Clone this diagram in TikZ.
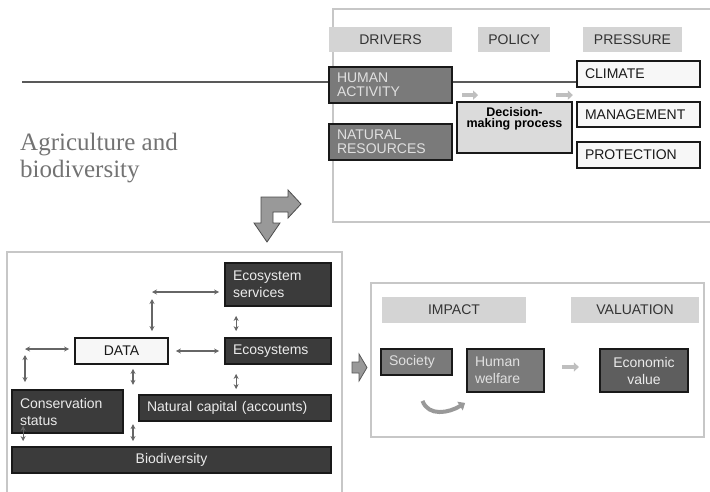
\documentclass[tikz,border=0pt]{standalone}
\usepackage{fontspec}
\setsansfont{Liberation Sans}
\newfontfamily\titlefont{Liberation Serif}
\usepackage{tikz}
\usetikzlibrary{arrows.meta,positioning,calc}

\begin{document}
\begin{tikzpicture}[x=1pt,y=-1pt,
  frame/.style={draw=black!22,line width=2.5pt},
  header/.style={fill=black!17,text=black!80,minimum height=25pt,inner xsep=8pt,inner ysep=2pt,align=center,font=\sffamily\fontsize{14}{14}\selectfont},
  box/.style={draw=black!90,line width=1.8pt,inner xsep=8pt,inner ysep=2pt,font=\sffamily\fontsize{14}{17}\selectfont},
  tight/.style={font=\sffamily\fontsize{14}{14}\selectfont},
  darkbox/.style={box,fill=black!77,text=black!8,align=left},
  midbox/.style={box,fill=black!52,text=black!12,align=left},
  lightbox/.style={box,fill=black!3,text=black!90,align=left},
  link/.style={draw=black!60,line width=1.1pt,{Stealth[length=5pt,width=5pt]}-{Stealth[length=5pt,width=5pt]}},
  softarrow/.style={draw=black!25,line width=3.5pt,-{Triangle[length=5pt,width=9pt]}},
  rule/.style={draw=black!65,line width=1.5pt}]
  \useasboundingbox (0,0) rectangle (710,491); % 画像全体の範囲
  \draw[frame] (333,9) rectangle (714,222); % 右上の枠
  \draw[frame] (7,252) rectangle (342,495); % 左下の枠
  \draw[frame] (371,283) rectangle (704,437); % 右下の枠
  % 右上：要因・政策・圧力
  \node[header,text width=107pt] (drivers) at (390.5,39.5) {DRIVERS}; % 見出し
  \node[header,text width=56pt] (policy) at (514,39.5) {POLICY}; % 見出し
  \node[header,text width=83pt] (pressure) at (632.5,39.5) {PRESSURE}; % 見出し
  \node[midbox,tight,text width=107pt,minimum height=36pt] (human) at (390.5,85) {HUMAN\\ACTIVITY}; % 人間活動
  \node[midbox,tight,text width=107pt,minimum height=36pt] (natural) at (390.5,142) {NATURAL\\RESOURCES}; % 自然資源
  \node[box,fill=black!14,align=center,inner xsep=4pt,inner ysep=5pt,text width=107pt,minimum height=51pt,text depth=31.5pt,font=\sffamily\bfseries\fontsize{12.5}{11}\selectfont] (decision) at (514.5,127.5) {Decision-\\making process}; % 意思決定
  \node[lightbox,tight,text width=107pt,minimum height=26pt] (climate) at (638.5,74) {CLIMATE}; % 気候
  \node[lightbox,tight,text width=107pt,minimum height=25pt] (management) at (638.5,114.5) {MANAGEMENT}; % 管理
  \node[lightbox,tight,text width=107pt,minimum height=26pt] (protection) at (638.5,155) {PROTECTION}; % 保護
  \coordinate (lineL) at (22,82); % 横線の左端
  \draw[rule] (lineL) -- (lineL -| human.west); % 横線（左）
  \draw[rule] (lineL -| human.east) -- (lineL -| climate.west); % 横線（右）
  \draw[softarrow] ([shift={(6,-6)}]decision.north west) -- ++(16,0); % 小さい矢印
  \draw[softarrow] ([shift={(-17,-6)}]decision.north east) -- ++(17,0); % 小さい矢印
  % 左側の題名と折れ矢印
  \node[anchor=north west,inner sep=0pt,align=left,text=black!55,font=\titlefont\fontsize{25}{27}\selectfont] (title) at (20,133) {Agriculture and\\biodiversity}; % 題名
  \draw[fill=black!40,draw=black!70,line width=0.8pt] (261,223) -- (254,223) -- (267,242) -- (280,223) -- (273,223) -- (273,212) -- (288,212) -- (288,218) -- (301,204) -- (288,190) -- (288,197) -- (261,197) -- cycle; % 折れ矢印
  % 左下：データとつながり
  \node[darkbox,text width=90pt,minimum height=43pt] (ecoserv) at (278,284.5) {Ecosystem\\services}; % 生態系サービス
  \node[darkbox,text width=90pt,minimum height=26pt] (eco) at (278,351) {Ecosystems}; % 生態系
  \node[lightbox,align=center,text width=77pt,minimum height=26pt] (data) at (121.5,351) {DATA}; % データ
  \node[darkbox,text width=95pt,minimum height=43pt] (conservation) at (67.5,411.5) {Conservation\\status}; % 保全状況
  \node[darkbox,text width=176pt,minimum height=26pt] (natcap) at (235,408) {Natural capital (accounts)}; % 自然資本
  \node[darkbox,align=center,text width=303pt,minimum height=26pt] (biodiv) at (171.5,460) {Biodiversity}; % 生物多様性
  \coordinate (dataT) at (152,292); % 上の折れ点
  \coordinate (dataL) at (25,349); % 左の折れ点
  \draw[link,shorten >=5pt] (dataT) -- (dataT -| ecoserv.west); % 上の横矢印
  \draw[link,shorten <=7pt,shorten >=6pt] (dataT) -- (dataT |- data.north); % 上の縦矢印
  \draw[link,shorten >=5pt] (dataL) -- (dataL -| data.west); % 左の横矢印
  \draw[link,shorten <=6pt,shorten >=7pt] (dataL) -- (dataL |- conservation.north); % 左の縦矢印
  \draw[link,shorten <=7pt,shorten >=5pt] (data.east) -- (eco.west); % データと生態系
  \draw[link] ([shift={(12,9)}]ecoserv.south west) -- ([shift={(12,-6)}]eco.north west); % サービスと生態系
  \draw[link] ([shift={(12,9)}]eco.south west) -- ($(eco.south west |- natcap.north)+(12,-5)$); % 生態系と自然資本
  \draw[link] ([shift={(11.5,4)}]data.south) -- ++(0,16); % データの下
  \draw[link] ([shift={(-38.5,-5)}]biodiv.north) -- ++(0,-17); % 生物多様性の上
  \draw[link] ([shift={(12,-8)}]conservation.south west) -- ($(conservation.south west |- biodiv.north)+(12,-5)$); % 保全状況と生物多様性
  % 右下：影響と評価
  \draw[fill=black!40,draw=black!65,line width=0.8pt] (352,362) -- (359,362) -- (359,354) -- (367,367.5) -- (359,381) -- (359,373) -- (352,373) -- cycle; % 入口の矢印
  \node[header,text width=128pt,minimum height=26pt] (impact) at (454,310) {IMPACT}; % 見出し
  \node[header,text width=112pt,minimum height=26pt] (valuation) at (635,310) {VALUATION}; % 見出し
  \node[midbox,text width=55pt,minimum height=26pt] (society) at (416.5,362) {Society}; % 社会
  \node[midbox,text width=61pt,minimum height=43pt] (welfare) at (505.5,370.5) {Human\\welfare}; % 人間の福祉
  \node[darkbox,fill=black!63,align=center,text width=72pt,minimum height=43pt] (econ) at (644,370.5) {Economic\\value}; % 経済的価値
  \draw[softarrow] ([shift={(17,-3.5)}]welfare.east) -- ++(17,0); % 福祉から価値へ
  \draw[draw=black!40,line width=4pt,-{Triangle[length=6pt,width=10pt]}] ([shift={(6,25)}]society.south) .. controls +(6,16) and +(-16,10) .. ([shift={(-1,10)}]welfare.south west); % 曲がった矢印
\end{tikzpicture}
\end{document}
